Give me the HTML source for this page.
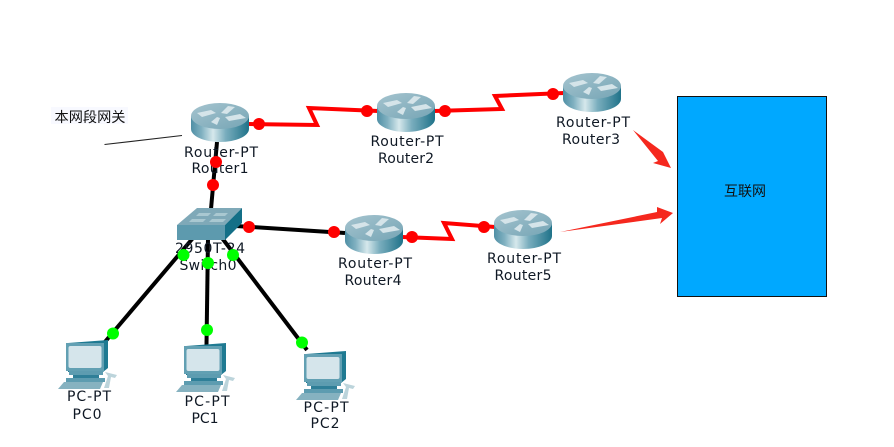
<!DOCTYPE html>
<html><head><meta charset="utf-8"><style>
html,body{margin:0;padding:0;background:#fff}
svg{display:block}
text{font-family:"DejaVu Sans",sans-serif;font-size:14px;fill:#0f1824;text-anchor:middle}
.c{font-family:"Liberation Sans","Noto Sans CJK SC",sans-serif;font-size:14px;fill:#111}
</style></head><body>
<svg width="894" height="447" viewBox="0 0 894 447" xmlns="http://www.w3.org/2000/svg">
<defs>
<linearGradient id="b" x1="0" x2="1" y1="0" y2="0"><stop offset="0" stop-color="#4f8fa5"/><stop offset=".18" stop-color="#7fb0c0"/><stop offset=".38" stop-color="#d6e8ec"/><stop offset=".6" stop-color="#79adbd"/><stop offset="1" stop-color="#1f7289"/></linearGradient>
<linearGradient id="t" x1="0" x2="1" y1="0" y2="1"><stop offset="0" stop-color="#a5c4cf"/><stop offset="1" stop-color="#76a5b5"/></linearGradient>
<symbol id="r" overflow="visible" width="58" height="39" viewBox="-29 0 58 39">
<path d="M-29 13V26C-29 33-16 39 0 39S29 33 29 26V13Z" fill="url(#b)"/>
<ellipse cx="0" cy="13" rx="29" ry="13" fill="url(#t)"/>
<g fill="#d5e4e9"><path d="M-23 10L-9 7L-4 10L-18 14Z"/><path d="M1 10L8 3L15 4L7 11Z"/><path d="M5 14L20 11L26 15L9 18Z"/><path d="M-9 19L-3 14L0 15L-3 22Z"/></g>
</symbol>
<symbol id="p" overflow="visible" width="60" height="50" viewBox="0 0 60 50">
<path d="M9 3L49 0V28L44 32H9Z" fill="#1f7a92"/>
<rect x="7" y="3" width="38" height="28" fill="#62a0b3"/>
<rect x="9.500" y="6" width="33" height="22" rx="2" fill="#d5e5eb"/>
<rect x="10" y="31" width="34" height="4" fill="#5d9cb0"/>
<rect x="14" y="35" width="26" height="3" fill="#2f7f98"/>
<rect x="7" y="38" width="39" height="4" fill="#5d9cb0"/>
<path d="M5 42H44L41 49H-1Z" fill="#86b2c0"/>
<path d="M46 32L58 35L56 38L52 37L50 48L45 48L49 36Z" fill="#bcd4db"/>
</symbol>
</defs>

<rect x="51" y="107" width="77" height="17" fill="#f8f9ff"/>
<text class="c" x="90" y="122" textLength="71" lengthAdjust="spacingAndGlyphs">本网段网关</text>
<path d="M104.500 144.500L182 135.500" stroke="#222" stroke-width="1.100" fill="none"/>

<g fill="none" stroke-width="4" stroke-linejoin="miter">
<g stroke="#f00">
<path d="M249 124L317 125L309 108L378 111"/>
<path d="M434 111L502 109L495 96L564 93"/>
<path d="M402 237L452 239L444 223L495 227"/>
</g>
<g stroke="#000">
<path d="M217 142L211 209"/>
<path d="M236 226L345 233"/>
<path d="M193 238L104 343"/>
<path d="M208 238L206.500 345"/>
<path d="M222 238L307 350"/>
</g>
</g>

<use href="#r" x="191" y="103"/>
<use href="#r" x="377" y="93"/>
<use href="#r" x="563" y="73"/>
<use href="#r" x="345" y="215"/>
<use href="#r" x="494" y="210"/>

<path d="M197 208H242L225 225H177Z" fill="#7fa9b8"/>
<path d="M177 225H225V240H177Z" fill="#5d9aae"/>
<path d="M225 225L242 208V223L225 240Z" fill="#136f87"/>
<g fill="#a9c8d1"><path d="M199 213H211L208 216H196Z"/><path d="M216 213H228L225 216H213Z"/><path d="M192 219H206L203 222H189Z"/><path d="M212 219H226L223 222H209Z"/></g>

<use href="#p" x="59" y="340"/>
<use href="#p" x="177" y="343"/>
<use href="#p" x="297" y="351"/>

<text x="221" y="157" textLength="74">Router-PT</text><text x="220" y="173" textLength="57">Router1</text>
<text x="407" y="146" textLength="73">Router-PT</text><text x="406" y="163" textLength="56">Router2</text>
<text x="593" y="127" textLength="74">Router-PT</text><text x="591" y="144" textLength="58">Router3</text>
<text x="375" y="268" textLength="74">Router-PT</text><text x="373" y="285" textLength="57">Router4</text>
<text x="524" y="263" textLength="74">Router-PT</text><text x="523" y="280" textLength="57">Router5</text>
<text x="210" y="253" textLength="70">2950T-24</text><text x="208" y="270" textLength="57">Switch0</text>
<text x="89" y="401" textLength="44">PC-PT</text><text x="87" y="419" textLength="29">PC0</text>
<text x="207" y="406" textLength="45">PC-PT</text><text x="205" y="423" textLength="27">PC1</text>
<text x="326" y="412" textLength="45">PC-PT</text><text x="325" y="428" textLength="29">PC2</text>

<g fill="#f00">
<circle cx="259" cy="124" r="6"/><circle cx="367" cy="111" r="6"/><circle cx="445" cy="111" r="6"/><circle cx="553" cy="94" r="6"/>
<circle cx="216" cy="162" r="6"/><circle cx="213" cy="185" r="6"/>
<circle cx="249" cy="227" r="6"/><circle cx="334" cy="232" r="6"/><circle cx="412" cy="237" r="6"/><circle cx="484" cy="227" r="6"/>
</g>
<g fill="#0f0">
<circle cx="183.500" cy="255" r="6"/><circle cx="208" cy="263" r="6"/><circle cx="233" cy="255" r="6"/>
<circle cx="113" cy="333.500" r="6"/><circle cx="207" cy="330" r="6"/><circle cx="302" cy="342.500" r="6"/>
</g>

<rect x="677.500" y="96.500" width="149" height="200" fill="#00a8ff" stroke="#111" stroke-width="1"/>
<text class="c" x="745" y="196" textLength="42">互联网</text>

<path d="M633 130L663 152L671 168L653 163L658 161Z" fill="#f5281e"/>
<path d="M560 232L657 212L657 207L673 213L660 224L662 218Z" fill="#f5281e"/>
</svg>
</body></html>
